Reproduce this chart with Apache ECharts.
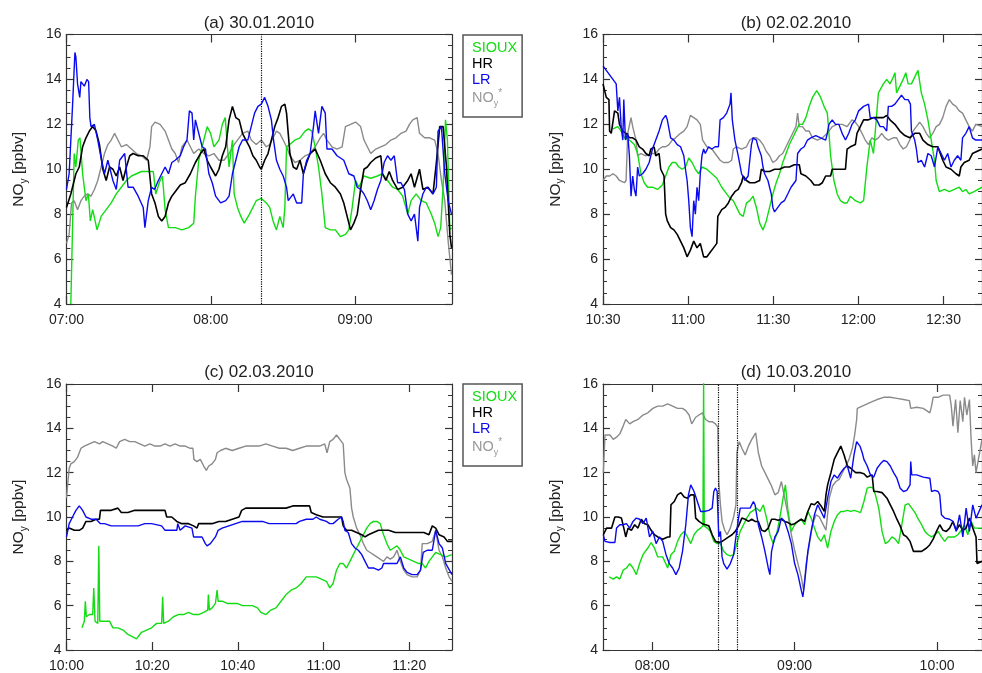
<!DOCTYPE html>
<html>
<head>
<meta charset="utf-8">
<script src="https://cdn.jsdelivr.net/npm/echarts@6/dist/echarts.min.js"></script>
<style>
html,body{margin:0;padding:0;background:#fff;}
#c{width:982px;height:673px;}
</style>
</head>
<body>
<div id="c"></div>
<script>
// ---- panel titles, names, tick labels ----
var panelTitles = ['(a) 30.01.2010', '(b) 02.02.2010', '(c) 02.03.2010', '(d) 10.03.2010'];
var seriesNames = ['SIOUX', 'HR', 'LR', 'NOy*'];
var yTicks = [4, 6, 8, 10, 12, 14, 16];
// time of x = 0 (minutes of the day) for each panel, and the labelled ticks (minutes after that)
var panelBase = [420, 630, 600, 480];
var xTickValues = [[0, 60, 120], [0, 30, 60, 90, 120], [0, 20, 40, 60, 80], [0, 60, 120]];
var xRange = [[0, 160.3], [0, 133.6], [0, 90], [-20.7, 138.9]];
var dottedTimes = [[81], [], [], [27.75, 35.8]];

// ---- (a) 30.01.2010, minutes after 07:00 ----
var a_lr = [[0,9.1],[1.1,9.8],[2.5,12.8],[3.5,15.2],[3.9,15.0],[4.6,13.8],[5.5,13.2],[6.0,13.9],[7.4,13.7],[8.5,14.0],[9.2,13.9],[9.7,12.3],[10.2,11.9],[11.6,12.0],[13.0,11.3],[14.4,10.5],[15.8,9.8],[17.2,10.4],[19.3,9.5],[20.7,9.1],[22.1,10.4],[24.2,10.7],[25.6,9.2],[27.7,9.2],[29.8,8.8],[31.9,8.3],[32.6,7.4],[34.0,8.6],[35.4,9.2],[36.6,9.1],[38.2,9.5],[39.6,9.8],[41.0,10.1],[42.4,9.8],[43.8,10.3],[45.2,10.4],[47.3,10.6],[48.7,11.0],[50.1,11.3],[51.1,12.6],[52.2,12.5],[52.9,11.3],[53.6,12.2],[55.0,11.6],[56.4,11.0],[57.8,10.9],[59.2,9.8],[60.6,9.4],[62.0,8.8],[64.1,8.5],[66.2,8.6],[67.6,8.8],[69.0,9.8],[70.4,10.4],[71.8,11.0],[73.2,11.3],[75.4,11.3],[76.8,11.9],[78.2,12.5],[79.6,12.8],[81.0,12.9],[82.4,13.2],[83.8,12.8],[85.2,12.2],[86.1,11.3],[87.3,10.4],[88.7,10.0],[90.1,9.7],[91.5,9.2],[92.2,8.6],[94.3,8.9],[95.7,8.5],[97.8,8.5],[98.5,9.8],[99.9,10.4],[101.3,10.7],[102.7,11.9],[103.4,12.6],[104.8,11.6],[106.2,12.8],[107.6,12.5],[108.3,10.9],[110.4,10.9],[112.5,10.6],[115.3,10.4],[117.4,9.8],[119.5,9.7],[120.9,9.2],[122.3,9.1],[123.7,8.9],[125.1,8.6],[126.5,8.2],[127.9,8.6],[129.3,9.1],[130.7,9.5],[132.1,10.3],[133.5,10.6],[134.9,10.4],[136.3,10.6],[137.7,9.4],[139.1,9.4],[140.5,9.1],[141.9,8.0],[143.3,7.7],[144.7,8.0],[146.1,6.8],[146.8,8.3],[148.2,8.9],[149.6,9.2],[151.0,9.1],[152.4,8.9],[153.8,9.2],[154.5,11.7],[155.9,11.9],[157.3,9.8],[158.7,8.6],[160.1,8.0]];
var a_hr = [[0,8.3],[1.8,8.9],[3.9,9.8],[5.3,10.1],[6.7,11.0],[8.1,11.4],[9.5,11.7],[10.9,11.9],[12.3,11.7],[13.7,11.1],[15.1,10.0],[16.5,9.5],[17.9,10.1],[19.3,10.0],[20.7,9.7],[22.1,10.1],[23.5,9.5],[24.9,10.1],[26.3,10.6],[27.7,10.7],[29.8,10.6],[31.9,10.6],[34.0,10.4],[35.4,8.9],[36.8,8.5],[38.2,7.9],[39.6,7.7],[41.0,7.9],[42.4,8.5],[43.8,8.8],[45.2,9.0],[47.3,9.3],[49.4,9.4],[51.5,9.8],[53.6,10.3],[55.7,10.7],[57.1,10.9],[58.5,10.4],[59.9,10.1],[62.0,9.7],[63.4,10.0],[64.8,10.6],[66.2,11.0],[67.6,12.2],[69.0,12.8],[70.4,12.3],[71.8,12.2],[73.2,11.6],[74.6,11.3],[76.1,11.0],[77.5,10.6],[78.9,10.4],[80.3,10.1],[81.0,10.0],[82.4,10.4],[83.8,10.7],[85.2,11.3],[86.6,11.9],[88.0,12.3],[89.4,12.8],[90.8,12.9],[91.5,12.5],[92.2,11.6],[92.9,10.7],[94.3,10.1],[95.7,10.0],[97.1,10.4],[98.5,9.8],[99.9,10.3],[101.3,10.7],[103.4,10.9],[105.5,10.4],[107.6,9.8],[109.7,9.4],[111.8,9.2],[113.9,8.9],[115.3,8.5],[116.7,7.9],[118.1,7.3],[119.5,7.6],[120.9,8.0],[122.3,9.1],[123.7,10.0],[125.1,10.1],[126.5,10.3],[128.6,10.5],[130.7,10.6],[131.4,9.8],[132.8,9.5],[134.2,9.9],[135.6,9.5],[137.7,9.1],[139.8,9.2],[141.9,9.5],[143.3,9.8],[144.7,9.2],[146.8,10.0],[148.2,9.1],[150.3,9.2],[152.4,8.9],[153.8,10.3],[155.2,11.9],[156.6,11.9],[158.0,10.1],[159.4,7.1],[160.1,6.5]];
var a_sioux = [[1.8,4.0],[3.2,10.7],[3.9,10.1],[4.9,11.3],[5.6,11.4],[6.7,9.8],[8.1,8.6],[9.1,8.9],[9.9,7.7],[10.9,8.2],[12.7,7.3],[14.4,7.9],[16.5,8.2],[18.6,8.5],[20.7,8.9],[22.8,9.2],[24.9,9.5],[27.0,9.7],[29.1,9.8],[31.2,9.9],[34.0,9.9],[36.1,9.9],[37.1,8.9],[38.9,9.5],[39.9,9.7],[41.0,8.2],[42.4,7.4],[45.2,7.4],[48.0,7.3],[50.8,7.4],[52.9,7.6],[53.6,8.8],[55.0,10.4],[56.4,11.0],[58.5,11.9],[59.9,11.6],[61.3,11.0],[63.4,11.3],[64.8,12.0],[66.0,12.3],[66.9,11.0],[67.6,10.1],[69.0,11.3],[69.7,8.9],[71.1,8.3],[72.5,7.9],[73.9,7.6],[76.1,8.0],[78.9,8.6],[81.0,8.7],[83.1,8.5],[84.5,8.3],[85.9,7.7],[87.3,7.3],[88.7,7.9],[90.1,7.4],[90.8,8.3],[91.5,11.0],[92.9,11.1],[95.0,11.3],[97.1,11.4],[99.2,11.7],[100.6,11.8],[102.0,11.7],[103.4,11.0],[104.8,10.1],[106.2,8.9],[107.6,7.4],[109.7,7.3],[111.8,7.3],[113.9,7.0],[116.0,7.1],[117.4,7.3],[118.8,8.3],[120.2,9.5],[121.6,9.2],[123.7,9.7],[126.5,9.6],[129.3,9.7],[131.4,9.8],[133.5,9.5],[135.6,9.2],[137.7,9.1],[139.8,8.8],[141.9,8.0],[143.3,8.6],[145.4,8.9],[147.5,8.6],[149.6,8.5],[151.7,8.0],[153.1,7.6],[154.5,7.0],[155.6,7.4],[156.6,9.2],[157.6,12.2],[158.4,11.3],[159.4,7.3],[160.1,7.4]];
var a_noy = [[0,6.7],[1.1,7.1],[2.1,8.5],[3.2,8.6],[4.6,8.2],[6.0,8.6],[7.4,8.8],[8.8,8.9],[10.2,8.8],[11.6,9.1],[13.0,9.5],[14.4,10.1],[15.8,10.7],[17.2,11.1],[18.6,11.3],[20.0,11.6],[21.4,11.3],[22.8,11.0],[24.9,11.1],[27.0,10.9],[29.1,10.7],[31.2,10.6],[33.3,10.4],[34.7,11.0],[35.4,11.9],[36.8,12.1],[38.9,12.0],[41.0,11.7],[42.4,11.3],[43.8,10.9],[45.2,10.7],[46.6,10.3],[48.0,11.0],[50.1,11.3],[51.5,11.0],[52.9,10.7],[55.0,10.9],[57.1,10.7],[59.2,10.6],[61.3,10.7],[63.4,10.4],[65.5,10.4],[67.6,10.7],[69.7,11.1],[71.1,11.3],[73.2,11.6],[75.4,11.7],[76.8,11.3],[78.9,11.1],[81.0,11.3],[83.1,11.0],[84.5,11.1],[85.9,11.4],[87.3,11.7],[88.7,11.6],[90.1,11.3],[91.5,11.0],[92.9,10.6],[95.0,10.3],[97.1,10.4],[99.2,10.6],[101.3,10.7],[103.4,11.0],[105.5,11.4],[106.9,11.6],[108.3,11.3],[110.4,11.0],[112.5,10.9],[114.6,11.0],[116.0,11.9],[118.1,12.0],[120.2,12.1],[122.3,11.9],[123.7,11.3],[125.1,11.0],[126.5,10.7],[128.6,10.9],[130.7,11.0],[132.8,11.1],[134.9,11.3],[137.0,11.4],[139.1,11.6],[141.2,11.7],[142.6,12.0],[144.0,12.2],[145.8,12.3],[146.8,11.6],[148.9,11.4],[151.0,11.4],[153.1,11.3],[154.5,10.7],[155.9,9.5],[157.3,8.6],[158.7,6.8],[160.1,5.3]];

// ---- (b) 02.02.2010, minutes after 10:30 ----
var b_lr = [[0,14.6],[1.16,14.4],[2.91,14.1],[4.07,13.9],[4.65,13.8],[5.23,12.6],[5.81,13.2],[6.4,11.9],[6.98,11.3],[7.33,13.1],[7.91,11.3],[8.72,11.6],[9.3,10.6],[9.88,8.8],[10.47,9.7],[11.05,9.1],[11.63,8.8],[12.21,10.1],[12.79,9.7],[13.95,9.8],[15.12,10.0],[16.28,10.3],[17.44,10.9],[18.6,11.3],[19.77,11.7],[20.93,12.2],[22.09,12.4],[22.67,12.2],[23.84,11.4],[25.0,11.3],[26.16,11.1],[27.33,11.0],[28.49,10.6],[29.07,10.0],[29.65,9.5],[30.23,8.6],[30.81,7.4],[31.4,7.0],[31.98,8.6],[32.56,8.0],[33.14,9.2],[33.72,8.6],[34.3,9.8],[34.88,10.6],[35.47,10.9],[36.05,10.7],[37.21,11.0],[38.37,10.9],[39.53,11.0],[40.7,11.0],[41.28,12.2],[42.44,12.3],[43.6,12.5],[44.77,12.9],[45.12,13.4],[45.58,12.2],[46.51,11.3],[47.67,10.6],[48.84,9.8],[50.0,9.5],[51.16,9.7],[52.33,11.1],[52.91,11.4],[54.07,11.3],[54.65,11.0],[55.81,10.6],[56.4,10.1],[56.98,9.8],[58.14,9.5],[58.72,9.2],[59.3,8.9],[59.88,8.3],[60.47,8.1],[61.63,8.3],[62.79,8.5],[63.95,8.6],[65.12,8.9],[66.28,9.2],[68.02,9.5],[68.6,10.7],[69.77,10.9],[70.93,11.0],[72.09,11.3],[73.26,11.4],[75.0,11.5],[76.74,11.4],[78.49,11.3],[79.07,11.6],[79.65,12.0],[80.81,12.2],[81.98,12.0],[83.14,12.0],[84.3,11.6],[85.47,11.3],[86.63,11.6],[87.79,12.0],[88.95,12.2],[90.12,12.6],[91.86,12.8],[93.6,12.9],[94.19,12.3],[95.35,12.3],[96.51,12.2],[97.67,11.9],[98.84,11.9],[100.0,11.7],[100.58,12.8],[101.74,12.8],[102.91,12.9],[104.07,13.1],[105.23,13.3],[106.4,13.1],[107.56,13.1],[108.37,12.9],[108.72,11.7],[109.88,11.3],[110.47,10.9],[111.05,10.3],[112.21,10.4],[113.37,10.1],[114.53,10.7],[115.7,10.6],[116.86,10.1],[118.02,11.0],[119.19,10.7],[120.35,10.4],[121.51,10.7],[122.67,10.1],[123.84,10.4],[125.0,10.6],[126.16,10.4],[126.74,11.4],[127.91,11.6],[129.07,11.9],[130.23,11.4],[131.4,11.3],[133.6,11.3]];
var b_hr = [[0,13.8],[1.16,13.2],[2.09,13.1],[2.33,11.7],[2.91,11.6],[3.49,11.6],[4.07,12.6],[5.23,12.5],[5.81,12.0],[6.98,11.7],[8.14,11.6],[9.3,11.4],[10.47,11.4],[11.63,11.3],[12.79,11.0],[13.95,10.9],[15.12,10.7],[16.28,10.6],[16.86,10.9],[18.02,11.0],[18.6,10.6],[19.77,10.7],[20.35,10.0],[21.51,9.7],[22.09,8.0],[22.67,7.7],[23.84,7.4],[25.0,7.3],[26.16,7.1],[27.33,6.8],[28.49,6.5],[29.65,6.1],[30.81,6.4],[31.98,6.8],[33.14,6.5],[34.3,6.7],[35.47,6.1],[36.63,6.1],[37.79,6.3],[38.95,6.5],[40.12,6.7],[40.47,7.9],[41.86,8.2],[43.02,8.3],[44.19,8.5],[45.35,8.8],[46.51,9.0],[47.67,9.1],[48.84,9.4],[49.42,9.7],[50.58,9.5],[51.74,9.4],[53.49,9.4],[55.23,9.5],[55.81,10.0],[56.98,9.9],[58.72,9.9],[60.47,10.0],[62.21,10.0],[63.95,10.1],[65.7,10.1],[67.44,10.2],[69.19,10.2],[69.77,9.8],[71.51,9.7],[73.26,9.5],[74.42,9.3],[76.16,9.3],[77.33,9.4],[78.49,9.7],[80.23,9.7],[80.81,10.0],[81.98,10.0],[83.72,10.0],[85.47,10.0],[86.05,10.9],[87.21,11.0],[88.95,11.1],[89.53,11.6],[90.7,11.9],[91.86,12.2],[93.6,12.2],[95.35,12.3],[97.09,12.3],[98.84,12.3],[100.0,12.4],[101.16,12.2],[102.91,12.0],[104.65,11.7],[106.4,11.5],[108.14,11.4],[109.88,11.6],[111.63,11.6],[112.79,11.3],[114.53,11.1],[116.28,11.0],[118.02,11.0],[119.77,10.4],[120.93,10.1],[122.67,10.0],[124.42,9.8],[125.58,9.7],[126.16,10.1],[127.33,10.3],[129.07,10.4],[130.23,10.7],[133.6,10.9]];
var b_sioux = [[3.49,11.8],[5.23,11.9],[6.4,11.7],[7.56,11.4],[9.3,11.3],[11.05,11.1],[12.21,10.7],[13.37,9.8],[14.53,9.4],[15.7,9.2],[17.44,9.2],[19.19,9.1],[20.93,9.3],[22.09,9.7],[23.26,10.1],[24.42,10.3],[25.58,10.3],[26.74,10.1],[27.91,10.0],[29.07,10.1],[30.23,10.5],[31.4,10.3],[32.56,10.0],[33.72,9.8],[34.88,10.1],[36.63,10.0],[38.37,9.8],[40.12,9.6],[41.86,9.2],[43.6,8.9],[44.77,8.7],[45.93,8.6],[47.09,8.3],[48.26,8.0],[49.42,7.9],[50.58,8.5],[51.74,8.6],[52.91,8.8],[54.07,8.3],[55.23,7.6],[56.4,7.3],[57.56,7.7],[58.72,8.3],[59.88,8.9],[61.05,9.4],[62.21,9.8],[63.37,10.3],[64.53,10.7],[65.7,11.1],[66.86,11.4],[68.02,11.7],[69.19,12.0],[70.35,12.0],[71.51,12.3],[72.67,12.8],[73.84,13.2],[75.35,13.5],[76.74,13.2],[77.91,12.8],[79.07,12.5],[79.65,11.6],[80.23,10.6],[81.4,9.5],[82.56,8.9],[83.72,8.6],[84.88,8.5],[86.05,8.5],[87.21,8.8],[88.95,8.6],[90.7,8.5],[91.86,8.6],[93.02,10.1],[94.19,11.3],[95.35,10.7],[96.51,12.5],[97.09,13.4],[98.84,13.8],[100.0,14.0],[101.16,13.8],[102.33,14.1],[102.91,14.3],[103.49,13.4],[104.65,13.7],[105.81,14.0],[106.74,14.3],[107.56,13.8],[108.72,13.8],[109.88,14.1],[111.05,14.4],[112.21,13.4],[113.37,12.9],[114.53,12.2],[115.7,11.3],[116.86,10.4],[117.44,9.5],[118.6,9.0],[120.35,9.1],[122.09,9.0],[123.84,9.1],[125.58,9.2],[126.74,9.0],[127.91,9.1],[129.07,8.9],[130.81,9.0],[133.6,9.2]];
var b_noy = [[0,9.5],[1.16,9.7],[2.33,9.7],[3.49,9.8],[4.65,9.7],[5.81,9.5],[7.56,9.4],[8.14,9.5],[8.72,11.6],[9.88,12.3],[10.47,11.9],[11.63,11.3],[12.21,10.6],[13.37,10.7],[15.12,10.6],[16.86,10.7],[18.6,10.7],[19.77,10.9],[20.93,11.0],[22.09,11.0],[23.26,11.1],[24.42,11.3],[25.58,11.4],[27.33,11.6],[28.49,11.7],[29.65,11.9],[30.81,12.4],[31.98,12.3],[33.14,12.2],[34.3,12.0],[35.12,11.3],[36.63,11.0],[38.37,10.9],[40.12,10.6],[41.28,10.4],[42.44,10.3],[44.19,10.3],[45.35,10.4],[45.93,10.9],[47.09,11.0],[48.84,10.9],[50.58,11.0],[51.74,11.3],[52.91,11.4],[54.07,11.4],[55.23,11.3],[56.4,11.1],[57.56,10.8],[58.72,10.6],[59.88,10.3],[61.05,10.4],[62.21,10.6],[63.37,10.7],[64.53,11.0],[65.7,11.3],[66.86,11.6],[68.02,11.9],[68.6,12.5],[69.19,11.9],[70.35,11.9],[71.51,11.7],[72.67,11.7],[73.84,11.4],[75.58,11.3],[77.33,11.4],[79.07,11.6],[80.81,11.9],[82.56,12.0],[84.3,12.0],[86.05,11.9],[87.79,12.2],[88.95,12.1],[90.12,11.9],[91.28,11.6],[92.44,11.3],[93.6,11.1],[94.77,11.4],[95.93,11.3],[97.09,11.4],[98.26,11.6],[99.42,11.4],[100.58,11.3],[102.33,11.4],[103.49,11.4],[104.65,11.1],[105.81,10.9],[106.98,11.0],[108.14,11.3],[109.3,11.7],[110.47,11.9],[111.63,12.1],[112.79,11.9],[113.95,11.6],[115.12,11.4],[116.28,11.6],[117.44,11.9],[118.6,12.0],[119.77,12.3],[120.93,12.8],[122.09,13.1],[123.26,12.9],[124.42,12.8],[125.58,12.6],[126.74,12.5],[127.91,12.2],[129.07,11.9],[130.23,11.7],[131.4,12.0],[133.6,11.9]];

// ---- (c) 02.03.2010, minutes after 10:00 ----
var c_noy = [[0,10.85],[0.24,11.4],[0.63,12.2],[1.02,12.4],[1.81,12.5],[2.59,12.7],[3.38,13.1],[4.16,13.2],[5.34,13.3],[6.51,13.4],[7.69,13.3],[8.48,13.4],[9.65,13.3],[10.83,13.2],[11.62,13.1],[12.4,13.4],[13.58,13.5],[14.76,13.4],[15.93,13.4],[17.11,13.3],[18.29,13.2],[19.47,13.3],[20.64,13.2],[21.82,13.2],[23.0,13.3],[24.18,13.2],[25.35,13.3],[26.53,13.2],[27.71,13.2],[28.89,13.1],[29.51,13.1],[29.75,12.6],[30.46,12.5],[31.24,12.6],[32.03,12.3],[32.65,12.1],[33.2,12.3],[33.99,12.4],[34.77,12.6],[35.16,12.9],[35.95,13.0],[37.13,13.1],[38.7,13.0],[40.27,13.1],[41.84,13.2],[43.41,13.2],[44.98,13.2],[46.55,13.3],[48.12,13.2],[49.69,13.1],[51.26,13.1],[52.83,13.0],[54.4,13.1],[55.97,13.2],[57.54,13.2],[59.11,13.2],[60.28,13.3],[60.83,12.9],[61.46,13.4],[62.24,13.5],[63.03,13.7],[63.81,13.5],[64.6,13.3],[64.99,12.0],[65.38,11.7],[66.17,11.3],[66.56,10.4],[66.95,10.0],[67.74,9.5],[68.52,9.2],[69.31,8.8],[70.09,8.5],[70.88,8.4],[71.66,8.3],[72.45,8.2],[73.23,8.1],[74.02,8.0],[74.8,8.2],[75.59,8.1],[76.37,8.2],[77.16,8.5],[77.94,8.0],[78.73,7.6],[79.51,7.4],[80.69,7.3],[81.87,7.3],[82.65,7.6],[83.05,8.8],[84.22,8.8],[85.4,8.9],[86.19,9.4],[86.97,8.5],[87.76,8.2],[88.54,7.7],[89.32,7.3],[90,7.1]];
var c_hr = [[0,9.4],[0.63,9.5],[1.81,9.4],[2.98,9.4],[3.77,9.5],[4.55,9.8],[5.73,9.8],[6.91,9.9],[7.69,9.9],[7.93,10.3],[8.87,10.3],[10.44,10.3],[12.01,10.4],[12.79,10.2],[14.36,10.2],[15.93,10.3],[17.5,10.3],[19.07,10.3],[20.64,10.3],[21.82,10.3],[23.0,10.3],[23.39,10.0],[24.57,10.0],[25.75,9.8],[26.92,9.7],[28.49,9.7],[29.67,9.6],[30.46,9.5],[30.85,9.7],[32.42,9.7],[33.99,9.7],[35.56,9.8],[37.13,9.8],[38.7,9.9],[40.27,10.0],[40.89,10.3],[41.84,10.4],[43.41,10.4],[44.98,10.4],[46.55,10.4],[48.12,10.4],[49.69,10.4],[51.26,10.4],[52.83,10.5],[55.18,10.5],[56.75,10.5],[57.14,10.2],[58.32,10.1],[59.89,10.0],[61.46,10.0],[63.03,10.0],[64.21,10.0],[64.6,9.6],[65.38,9.4],[66.56,9.4],[67.74,9.3],[68.92,9.2],[69.7,9.1],[70.49,9.2],[71.66,9.3],[72.84,9.4],[74.02,9.4],[75.2,9.4],[76.77,9.3],[78.34,9.3],[79.91,9.3],[81.87,9.3],[83.44,9.3],[84.62,9.2],[85.4,9.6],[86.19,9.5],[86.97,9.2],[88.15,9.1],[88.93,8.9],[90,8.9]];
var c_lr = [[0,9.1],[0.63,9.7],[1.41,10.0],[2.2,10.3],[2.98,10.5],[3.77,10.3],[4.55,10.0],[5.73,9.9],[6.91,9.9],[7.93,9.7],[8.87,9.7],[10.44,9.6],[12.01,9.6],[13.58,9.6],[15.15,9.6],[16.72,9.6],[18.29,9.7],[19.86,9.7],[22.21,9.6],[23.0,9.4],[24.57,9.4],[25.75,9.4],[25.98,9.7],[26.53,9.4],[27.71,9.6],[29.28,9.5],[29.67,9.1],[30.85,9.1],[31.63,9.1],[32.42,8.8],[32.81,8.7],[33.59,8.8],[34.77,9.1],[35.4,9.4],[36.34,9.5],[37.91,9.6],[39.48,9.7],[41.05,9.8],[42.62,9.8],[44.19,9.8],[45.76,9.8],[47.33,9.7],[48.9,9.7],[50.47,9.7],[52.04,9.7],[53.61,9.7],[54.4,9.8],[55.97,9.9],[57.54,9.9],[58.32,10.0],[59.11,9.9],[60.68,9.8],[61.46,9.7],[62.24,9.7],[63.42,9.9],[64.21,10.0],[64.6,9.8],[64.99,9.4],[65.78,9.3],[66.56,8.8],[67.35,8.6],[68.13,8.5],[68.92,8.3],[69.7,8.0],[70.49,7.7],[71.66,7.7],[72.84,7.6],[73.63,7.7],[74.02,7.9],[75.59,7.9],[77.16,7.9],[77.94,8.2],[78.73,7.7],[79.51,7.5],[80.69,7.4],[81.87,7.4],[82.65,7.6],[83.28,8.4],[84.22,8.5],[85.4,8.5],[86.19,9.4],[86.97,8.8],[87.76,8.6],[88.54,7.9],[90,7.4]];
var c_sioux = [[3.61,5.0],[4.16,5.3],[4.4,6.2],[4.63,5.5],[5.34,5.6],[6.12,5.6],[6.36,6.8],[6.67,5.3],[7.3,5.2],[7.54,8.7],[7.77,5.3],[8.48,5.3],[9.26,5.3],[10.05,5.3],[10.83,5.0],[12.01,5.0],[13.19,4.9],[14.36,4.7],[15.38,4.6],[16.33,4.5],[17.5,4.8],[18.68,4.9],[19.86,5.0],[21.04,5.2],[22.21,5.2],[22.45,6.4],[22.68,5.2],[23.78,5.3],[24.96,5.5],[26.14,5.6],[27.32,5.6],[28.49,5.7],[29.67,5.6],[30.85,5.6],[32.03,5.7],[32.97,5.8],[33.12,6.5],[33.36,5.8],[33.99,5.9],[34.77,6.1],[35.16,6.7],[35.4,6.2],[36.34,6.2],[37.52,6.1],[38.7,6.1],[39.87,6.1],[41.05,6.0],[42.23,6.0],[43.41,6.0],[44.58,5.9],[45.37,5.7],[46.55,5.6],[47.72,5.8],[48.9,5.9],[50.08,6.2],[51.26,6.5],[52.43,6.7],[53.61,6.8],[54.79,7.0],[55.97,7.3],[57.14,7.3],[58.32,7.3],[59.5,7.2],[60.68,7.1],[61.46,6.8],[62.24,7.0],[63.03,7.6],[63.81,7.9],[64.6,7.9],[65.38,7.7],[66.17,8.0],[66.95,8.3],[67.74,8.6],[68.52,8.9],[69.31,9.2],[70.09,9.5],[70.88,9.7],[71.66,9.8],[72.45,9.8],[73.23,9.7],[74.02,9.2],[74.8,8.8],[75.59,8.5],[76.37,8.6],[77.16,8.7],[77.94,8.5],[78.73,8.2],[79.91,8.1],[81.08,8.0],[82.26,7.9],[83.05,7.9],[83.83,7.7],[84.62,8.0],[85.4,8.2],[86.19,8.4],[87.36,8.3],[88.54,8.2],[90,8.3]];

// ---- (d) 10.03.2010, minutes after 08:00 ----
var d_noy = [[-20.56,12.0],[-19.86,13.7],[-19.17,13.75],[-17.78,13.7],[-16.39,13.5],[-15.0,13.6],[-13.61,13.75],[-12.22,14.1],[-11.11,14.4],[-9.44,14.2],[-8.06,14.3],[-5.97,14.4],[-3.89,14.6],[-1.81,14.7],[0.28,14.9],[2.36,15.0],[4.44,15.0],[6.53,15.1],[8.61,15.0],[10.69,14.9],[12.78,14.9],[14.17,14.8],[15.56,14.6],[16.67,14.2],[18.33,14.5],[19.72,14.6],[21.11,14.7],[22.5,14.4],[23.89,14.3],[25.28,14.3],[26.67,14.2],[27.64,14.05],[28.06,11.6],[28.75,10.55],[29.44,9.8],[30.56,9.4],[31.53,9.2],[32.92,9.5],[34.31,10.0],[35.28,10.55],[35.69,12.9],[36.67,13.4],[37.78,13.1],[39.17,12.8],[40.56,13.2],[41.94,13.5],[43.61,13.8],[44.72,12.9],[46.11,12.3],[47.5,12.0],[48.89,11.7],[50.28,11.4],[51.67,11.0],[53.06,11.1],[54.44,11.6],[55.83,10.85],[57.22,10.1],[58.61,9.2],[60.0,8.5],[61.39,7.9],[62.78,7.3],[63.75,6.7],[64.86,7.9],[66.25,8.8],[67.64,9.7],[69.03,10.1],[70.42,10.0],[71.81,9.7],[73.19,9.4],[74.58,10.85],[75.97,11.4],[77.36,11.6],[78.75,11.7],[80.14,12.0],[81.53,12.3],[82.92,12.6],[84.31,13.1],[85.28,13.7],[86.11,14.4],[86.39,14.9],[88.47,15.0],[90.56,15.1],[92.64,15.2],[94.72,15.3],[97.5,15.4],[100.28,15.4],[103.06,15.35],[105.83,15.3],[108.33,15.25],[108.89,14.9],[111.39,14.95],[114.17,14.9],[116.94,14.7],[117.64,15.0],[118.33,15.4],[120.42,15.4],[122.5,15.5],[123.89,15.5],[125.28,15.5],[125.97,15.0],[126.67,14.1],[127.78,15.3],[128.75,13.8],[129.72,15.25],[130.83,14.3],[131.53,15.4],[132.5,14.6],[133.61,15.3],[134.31,13.5],[135.0,12.3],[135.69,12.8],[136.39,12.0],[138.9,13.5]];
var d_hr = [[-20.56,9.2],[-19.17,9.5],[-17.08,9.5],[-15.69,10.0],[-14.31,10.0],[-12.92,9.95],[-11.94,9.5],[-11.11,9.1],[-10.14,9.5],[-8.75,9.4],[-7.36,9.65],[-5.97,9.5],[-4.58,9.9],[-3.19,9.7],[-1.81,9.65],[-0.42,9.4],[0.97,9.2],[2.36,9.1],[4.44,9.0],[6.53,9.1],[7.5,9.1],[7.92,10.55],[9.31,10.7],[10.69,11.0],[12.08,11.1],[13.47,10.9],[14.86,10.85],[16.25,11.0],[17.64,11.0],[18.33,9.95],[19.72,9.8],[21.11,9.7],[22.5,9.65],[23.89,9.6],[25.28,9.2],[26.67,8.9],[28.06,8.85],[29.44,8.9],[30.83,9.0],[32.22,9.1],[33.61,9.2],[35.0,9.35],[36.39,9.6],[37.78,9.95],[39.17,9.9],[40.56,9.8],[41.94,9.9],[43.33,9.8],[44.72,9.8],[46.11,9.4],[47.5,9.35],[48.89,9.5],[50.28,9.9],[51.67,9.9],[53.06,9.85],[54.44,9.9],[55.83,9.8],[57.22,9.75],[58.61,9.65],[60.0,9.7],[61.39,9.8],[62.78,9.9],[64.17,9.8],[65.56,10.25],[66.94,10.6],[68.33,10.55],[69.72,10.7],[71.11,10.5],[72.5,10.25],[73.19,11.0],[73.89,11.45],[75.28,12.0],[76.67,12.6],[78.06,12.9],[79.44,13.2],[80.14,13.15],[80.83,12.8],[82.22,12.3],[83.61,12.2],[85.69,12.0],[87.78,12.0],[89.17,11.95],[90.56,11.8],[92.64,11.9],[93.33,11.15],[94.72,11.15],[96.81,11.1],[98.89,10.85],[100.28,10.55],[101.67,10.25],[103.06,9.9],[104.44,9.6],[105.83,9.2],[107.22,9.1],[108.61,8.9],[110.0,8.45],[111.39,8.45],[113.47,8.45],[115.56,8.6],[116.94,8.75],[118.33,9.0],[119.72,9.35],[121.11,9.65],[122.5,9.4],[123.89,9.35],[125.28,9.5],[126.67,9.8],[128.06,9.4],[129.44,9.65],[130.83,9.4],[132.22,9.5],[133.61,9.95],[135.0,9.5],[136.39,9.1],[136.81,7.9],[138.9,8.0]];
var d_lr = [[-20.56,9.2],[-19.86,8.9],[-17.78,8.85],[-15.69,8.85],[-15.0,9.5],[-13.61,9.65],[-12.22,9.65],[-10.83,9.7],[-9.44,9.5],[-8.06,9.8],[-6.67,9.95],[-5.28,9.9],[-3.89,9.7],[-2.5,9.95],[-1.11,9.1],[0.28,9.35],[1.67,8.8],[3.06,9.1],[4.44,8.9],[5.83,8.3],[7.22,7.9],[8.61,7.7],[10.0,7.4],[11.39,7.7],[12.78,8.45],[14.17,9.65],[15.28,11.0],[16.25,11.45],[17.64,11.15],[19.03,10.7],[20.42,10.25],[21.81,10.25],[23.89,10.3],[25.28,10.4],[25.97,11.15],[26.67,11.3],[27.36,11.15],[28.06,9.1],[28.75,9.35],[29.44,8.2],[30.14,7.9],[31.53,7.65],[32.92,7.9],[34.31,8.3],[35.28,9.1],[36.39,9.95],[37.08,10.4],[39.17,10.4],[41.25,10.4],[42.64,10.7],[43.33,10.55],[44.72,9.65],[46.11,9.1],[47.5,8.45],[48.89,7.7],[49.58,7.4],[50.28,8.45],[51.67,9.1],[53.06,9.35],[54.44,9.95],[55.83,9.8],[57.22,9.35],[58.61,8.8],[60.0,7.9],[61.39,7.4],[62.78,6.7],[63.47,6.4],[64.17,7.0],[65.56,8.45],[66.94,9.35],[68.33,10.1],[69.72,10.55],[71.11,10.25],[72.5,9.95],[73.89,10.85],[75.28,11.6],[76.67,11.9],[78.06,11.75],[79.44,12.0],[80.83,12.2],[82.22,12.3],[83.61,11.75],[85.0,12.8],[86.11,13.4],[87.5,13.2],[88.47,12.9],[89.17,12.6],[90.56,12.3],[91.94,11.9],[93.33,11.8],[94.72,12.2],[96.11,12.4],[97.5,12.55],[98.89,12.5],[100.28,12.3],[101.67,12.0],[103.06,11.75],[104.44,11.3],[105.83,11.15],[107.22,11.2],[108.61,11.45],[108.89,12.5],[109.31,11.9],[111.39,11.9],[114.17,11.8],[116.94,11.75],[117.64,11.15],[119.03,11.2],[120.42,11.15],[121.11,11.0],[121.81,10.1],[123.19,9.95],[125.28,9.9],[126.67,9.8],[128.06,9.35],[129.44,10.1],[130.83,9.1],[132.22,10.4],[133.61,9.35],[135.0,10.55],[136.39,9.95],[138.9,10.55]];
var d_sioux = [[-18.06,7.3],[-16.39,7.2],[-15.0,7.3],[-13.61,7.2],[-12.22,7.6],[-10.83,7.7],[-9.44,7.9],[-8.06,7.7],[-6.67,7.4],[-5.28,7.9],[-3.89,8.3],[-1.81,8.6],[-0.42,8.85],[0.97,8.6],[2.36,8.2],[4.44,8.2],[6.53,7.7],[7.92,8.3],[9.31,8.45],[10.69,8.9],[12.08,9.2],[13.47,9.35],[14.86,9.1],[16.25,8.8],[17.64,9.2],[19.03,9.4],[20.42,9.5],[21.39,9.6],[21.67,16.2],[21.94,9.6],[23.19,9.5],[24.58,9.35],[25.97,8.9],[27.36,8.8],[28.75,8.8],[30.14,8.45],[31.53,8.3],[32.92,8.25],[34.31,8.3],[35.69,8.8],[37.08,9.35],[38.47,9.65],[39.86,9.95],[41.25,10.2],[42.64,10.3],[44.03,10.4],[45.42,10.25],[46.81,10.55],[48.19,9.95],[49.58,9.2],[50.97,8.8],[52.36,9.2],[53.75,9.95],[55.14,10.85],[56.11,11.45],[57.22,10.25],[58.61,9.35],[60.0,9.65],[61.39,9.8],[62.78,9.9],[64.17,9.65],[65.56,10.25],[66.94,9.95],[68.33,9.5],[69.72,9.1],[71.11,8.9],[72.5,9.2],[73.89,8.6],[75.28,9.35],[76.67,9.8],[78.06,10.1],[79.44,10.25],[80.83,10.25],[82.22,10.3],[83.61,10.25],[85.0,10.3],[86.39,10.25],[87.78,10.2],[89.17,10.7],[90.56,11.3],[91.94,11.35],[93.06,11.3],[94.03,11.0],[95.42,10.4],[96.81,9.35],[98.19,8.8],[99.58,8.9],[100.97,9.1],[102.36,9.0],[103.75,8.8],[105.14,9.65],[106.53,10.55],[107.92,10.6],[109.31,10.4],[110.69,10.2],[112.08,9.9],[113.47,9.65],[114.86,9.35],[116.25,9.2],[117.64,9.1],[119.03,9.2],[120.42,9.35],[121.81,9.1],[123.19,8.9],[124.58,9.1],[125.97,9.1],[127.36,9.1],[128.75,9.2],[130.14,9.4],[131.53,9.65],[132.92,9.2],[134.31,9.8],[135.69,9.5],[138.9,9.5]];

var panelData = [
  {SIOUX: a_sioux, HR: a_hr, LR: a_lr, 'NOy*': a_noy},
  {SIOUX: b_sioux, HR: b_hr, LR: b_lr, 'NOy*': b_noy},
  {SIOUX: c_sioux, HR: c_hr, LR: c_lr, 'NOy*': c_noy},
  {SIOUX: d_sioux, HR: d_hr, LR: d_lr, 'NOy*': d_noy}
];

// ---- styling ----
var colors = {SIOUX: '#12dc12', HR: '#000000', LR: '#0a0aee', 'NOy*': '#8a8a8a'};
var widths = {SIOUX: 1.4, HR: 1.6, LR: 1.4, 'NOy*': 1.4};
var drawOrder = ['NOy*', 'SIOUX', 'HR', 'LR'];
var FONT = 'Liberation Sans, Arial, Helvetica, sans-serif';
var AX = '#333333';
var grids = [
  {left: 66.5, top: 34.5, width: 385.5, height: 269.5},
  {left: 603, top: 34.5, width: 383, height: 269.5},
  {left: 66.5, top: 384, width: 385.5, height: 269.5},
  {left: 603, top: 384, width: 383, height: 269.5}
];
var titlePos = [[259, 23], [796, 23], [259, 372], [796, 372]];

function pad2(n) { return (n < 10 ? '0' : '') + n; }
function clockFmt(base) {
  return function (v) {
    var t = Math.round(base + v);
    return pad2(Math.floor(t / 60)) + ':' + pad2(t % 60);
  };
}

var xAxes = [], yAxes = [], series = [], graphics = [];
for (var i = 0; i < 4; i++) {
  var common = {
    type: 'value', gridIndex: i, min: xRange[i][0], max: xRange[i][1],
    axisLine: {show: true, onZero: false, lineStyle: {color: AX, width: 1.2}},
    axisTick: {show: true, inside: true, length: 8, customValues: xTickValues[i], lineStyle: {color: AX, width: 1.2}},
    splitLine: {show: false}
  };
  xAxes.push(Object.assign({}, common, {
    position: 'bottom',
    axisLabel: {show: true, customValues: xTickValues[i], formatter: clockFmt(panelBase[i]), color: '#222', fontSize: 14, fontFamily: FONT, margin: 9}
  }));
  xAxes.push(Object.assign({}, common, {position: 'top', axisLabel: {show: false}}));

  var ycommon = {
    type: 'value', gridIndex: i, min: 4, max: 16, interval: 2,
    axisLine: {show: true, onZero: false, lineStyle: {color: AX, width: 1.2}},
    axisTick: {show: true, inside: true, length: 7, lineStyle: {color: AX, width: 1.2}},
    minorTick: {show: true, splitNumber: 4, length: 4, lineStyle: {color: AX, width: 1}},
    splitLine: {show: false}, minorSplitLine: {show: false}
  };
  yAxes.push(Object.assign({}, ycommon, {
    position: 'left',
    name: '{n|NO}{s|y}{n| [ppbv]}', nameLocation: 'middle', nameGap: 37.5, nameRotate: 90,
    nameTextStyle: {color: '#222', fontFamily: FONT, rich: {
      n: {fontSize: 15.5, fontFamily: FONT, color: '#222', lineHeight: 20},
      s: {fontSize: 10, fontFamily: FONT, color: '#222', lineHeight: 20, verticalAlign: 'bottom'}
    }},
    axisLabel: {show: true, color: '#222', fontSize: 14, fontFamily: FONT, margin: 5,
      formatter: function (v) { return yTicks.indexOf(v) >= 0 ? String(v) : ''; }}
  }));
  yAxes.push(Object.assign({}, ycommon, {position: 'right', axisLabel: {show: false}}));

  drawOrder.forEach(function (name, k) {
    var s = {
      name: name, type: 'line', xAxisIndex: 2 * i, yAxisIndex: 2 * i,
      data: panelData[i][name], showSymbol: false, symbol: 'none', smooth: false,
      lineStyle: {color: colors[name], width: widths[name]}, itemStyle: {color: colors[name]},
      emphasis: {disabled: true}, animation: false, clip: true, z: 2 + k
    };
    if (k === drawOrder.length - 1 && dottedTimes[i].length) {
      s.markLine = {
        silent: true, symbol: ['none', 'none'], label: {show: false}, animation: false,
        lineStyle: {color: '#000', type: 'dotted', width: 1.2},
        data: dottedTimes[i].map(function (t) { return {xAxis: t}; })
      };
    }
    series.push(s);
  });

  graphics.push({
    type: 'text', x: titlePos[i][0], y: titlePos[i][1],
    style: {text: panelTitles[i], fill: '#222', font: '17px ' + FONT, align: 'center', verticalAlign: 'middle'}
  });
}

function legendAt(top) {
  return {
    left: 463, top: top, orient: 'vertical', icon: 'none', itemWidth: 0, itemHeight: 16, itemGap: 0,
    padding: [5, 5, 9, 4], borderColor: '#555', borderWidth: 1.5, selectedMode: false,
    textStyle: {fontSize: 14.5, fontFamily: FONT, lineHeight: 16,
      rich: {
        n: {fontSize: 14.5, fontFamily: FONT, color: '#999', lineHeight: 20},
        s: {fontSize: 9, fontFamily: FONT, color: '#999', lineHeight: 20, verticalAlign: 'bottom'},
        p: {fontSize: 10, fontFamily: FONT, color: '#999', lineHeight: 20, verticalAlign: 'top'}
      }},
    formatter: function (name) { return name === 'NOy*' ? '{n|NO}{s|y}{p|*}' : name; },
    data: seriesNames.map(function (n) { return {name: n, textStyle: {color: n === 'NOy*' ? '#999' : colors[n]}}; })
  };
}

var chart = echarts.init(document.getElementById('c'), null, {renderer: 'canvas'});
chart.setOption({
  animation: false,
  backgroundColor: '#fff',
  grid: grids,
  xAxis: xAxes,
  yAxis: yAxes,
  legend: [legendAt(35), legendAt(384)],
  series: series,
  graphic: graphics
});
</script>
</body>
</html>
